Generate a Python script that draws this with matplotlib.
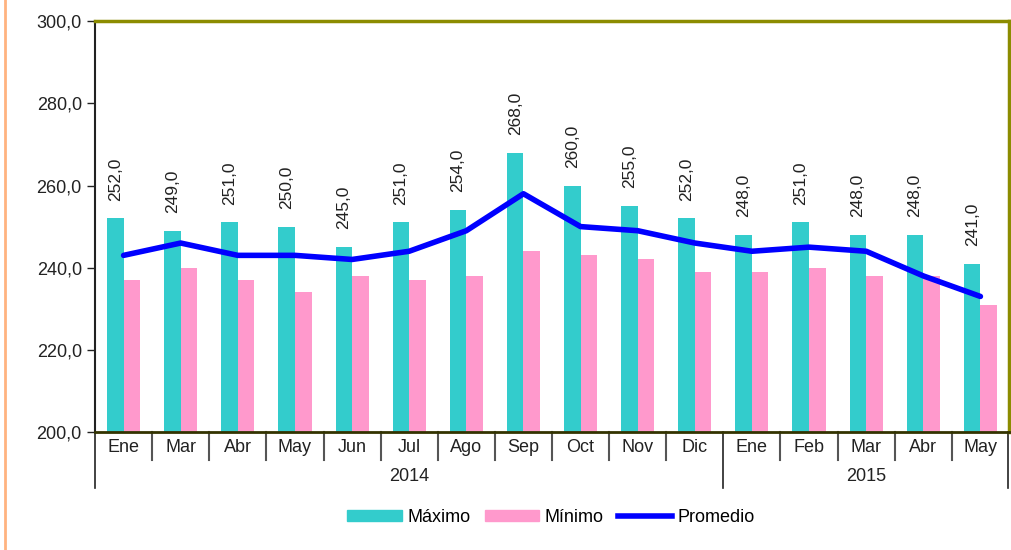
import numpy as np
import matplotlib.pyplot as plt
from matplotlib.lines import Line2D
from matplotlib.patches import Patch

plt.rcParams['font.family'] = ['Liberation Sans Narrow', 'Liberation Sans', 'DejaVu Sans']

meses = ["Ene", "Mar", "Abr", "May", "Jun", "Jul", "Ago", "Sep", "Oct", "Nov", "Dic",
         "Ene", "Feb", "Mar", "Abr", "May"]
anios = ["2014", "2015"]
n_2014 = 11

maximo = [252, 249, 251, 250, 245, 251, 254, 268, 260, 255, 252, 248, 251, 248, 248, 241]
minimo = [237, 240, 237, 234, 238, 237, 238, 244, 243, 242, 239, 239, 240, 238, 238, 231]
promedio = [243, 246, 243, 243, 242, 244, 249, 258, 250, 249, 246, 244, 245, 244, 238, 233]

c_max = '#33CCCC'
c_min = '#FF99CC'
c_prom = '#0000FF'
c_borde = '#8C8C00'

fig = plt.figure(figsize=(10.11, 5.5), dpi=100)
ax = fig.add_axes([0.094, 0.2145, 0.904, 0.747])

x = np.arange(len(meses))
w = 0.29
ax.bar(x - w / 2, maximo, w, color=c_max, zorder=2)
ax.bar(x + w / 2, minimo, w, color=c_min, zorder=2)
ax.plot(x, promedio, color=c_prom, lw=4, zorder=3, solid_capstyle='round')

for xi, v in zip(x, maximo):
    ax.text(xi - w / 2, v + 4.3, f"{v:.1f}".replace('.', ','), rotation=90,
            ha='center', va='bottom', fontsize=12.5, color='#222222')

ax.set_ylim(200, 300)
ax.set_xlim(-0.5, len(meses) - 0.5)
ax.set_yticks(range(200, 301, 20))
ax.set_yticklabels([f"{v:.1f}".replace('.', ',') for v in range(200, 301, 20)], fontsize=13)
ax.tick_params(axis='y', length=6, width=1, direction='out', colors='#222222')
ax.set_xticks([])

for s in ['top', 'right']:
    ax.spines[s].set_color(c_borde)
    ax.spines[s].set_linewidth(2.5)
ax.spines['bottom'].set_color('#333300')
ax.spines['bottom'].set_linewidth(2)
ax.spines['left'].set_color('#222222')
ax.spines['left'].set_linewidth(1.5)

# category labels below the axis
trans = ax.get_xaxis_transform()
px = 1 / 411
for xi, m in zip(x, meses):
    ax.text(xi, -15 * px, m, transform=trans, ha='center', va='center', fontsize=13,
            color='#222222')
for b in np.arange(0.5, len(meses) - 1, 1.0):
    if b == n_2014 - 0.5:
        continue
    ax.plot([b, b], [0, -28 * px], transform=trans, color='#555555', lw=1.5, clip_on=False)
for b in [-0.5, n_2014 - 0.5, len(meses) - 0.52]:
    ax.plot([b, b], [0, -56 * px], transform=trans, color='#222222', lw=1.2, clip_on=False)
ax.text((n_2014 - 1) / 2, -44 * px, anios[0], transform=trans, ha='center', va='center',
        fontsize=13, color='#222222')
ax.text((n_2014 + len(meses) - 1) / 2, -44 * px, anios[1], transform=trans, ha='center',
        va='center', fontsize=13, color='#222222')

handles = [Patch(color=c_max, label='Máximo'),
           Patch(color=c_min, label='Mínimo'),
           Line2D([0], [0], color=c_prom, lw=4, label='Promedio')]
fig.legend(handles=handles, loc='center', bbox_to_anchor=(0.545, 0.06), ncol=3,
           frameon=False, fontsize=13, handlelength=3.0, handleheight=0.55,
           columnspacing=0.8, handletextpad=0.3)

# orange line at the left edge
fig.add_artist(Line2D([5 / 1011, 5 / 1011], [0, 1], color='#FFB380', lw=2))

fig.savefig('out.png', dpi=100)
